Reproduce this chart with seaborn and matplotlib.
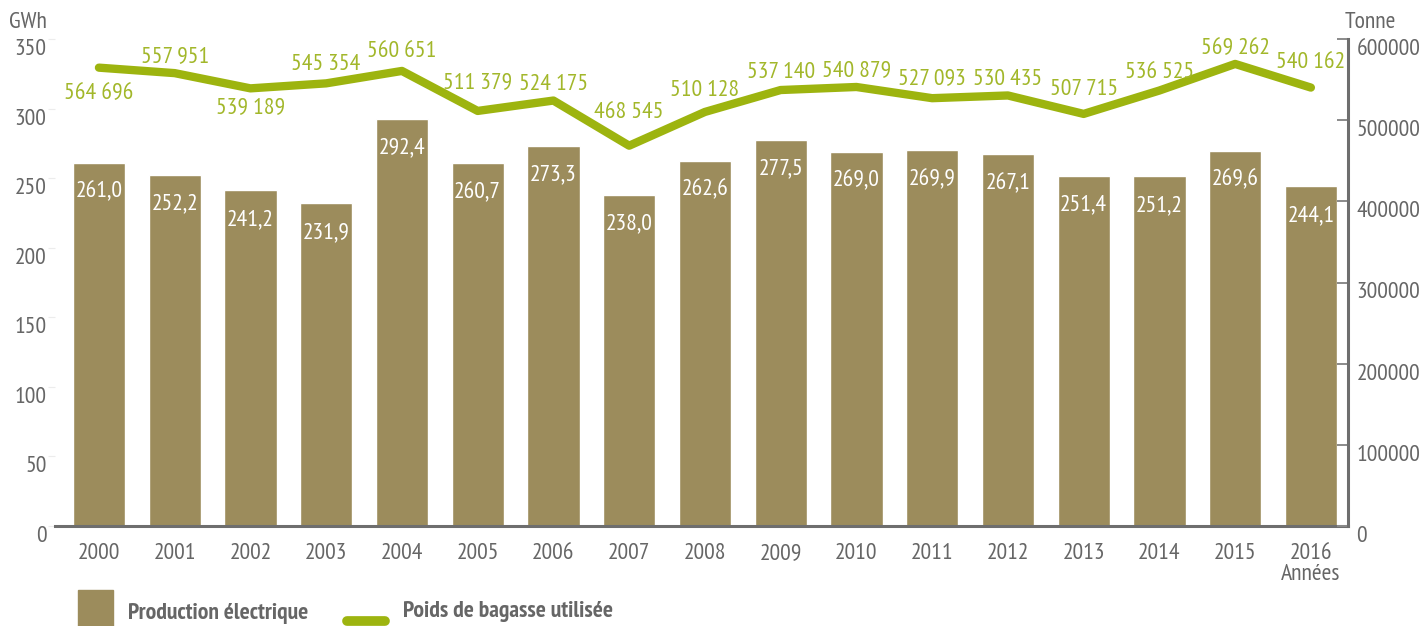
import numpy as np
import seaborn as sns
import matplotlib.pyplot as plt
import matplotlib.transforms as mtransforms
from matplotlib import font_manager as fm
from matplotlib.patches import Rectangle
from matplotlib.lines import Line2D

years = [str(y) for y in range(2000, 2017)]
production_gwh = [261.0, 252.2, 241.2, 231.9, 292.4, 260.7, 273.3, 238.0, 262.6,
                  277.5, 269.0, 269.9, 267.1, 251.4, 251.2, 269.6, 244.1]
bagasse_t = [564696, 557951, 539189, 545354, 560651, 511379, 524175, 468545, 510128,
             537140, 540879, 527093, 530435, 507715, 536525, 569262, 540162]
left_ticks = [0, 50, 100, 150, 200, 250, 300, 350]
right_ticks = [0, 100000, 200000, 300000, 400000, 500000, 600000]

# label offset from the line point, in pixels (negative = below)
line_label_dy = [-26, 17, -19, 19, 19, 28, 16, 33, 21, 18, 16, 20, 16, 24, 18, 15, 25]

BAR = "#9c8c5c"
LINE = "#9db40f"
LINE_TXT = "#a2b72a"
GREY = "#666666"
AXIS = "#6e6e6e"

# the source uses a condensed face; take the first narrow family we have
have = {f.name for f in fm.fontManager.ttflist}
narrow = [n for n in ["PT Sans Narrow", "Roboto Condensed", "Fira Sans Condensed",
                      "Open Sans Condensed", "Liberation Sans Narrow", "Archivo Narrow"]
          if n in have]
FS = 17 if narrow else 13

sns.set_theme(style="white")
plt.rcParams["font.family"] = narrow[:1] + ["Liberation Sans", "DejaVu Sans"]

W, H = 1420, 626
fig = plt.figure(figsize=(W / 100, H / 100), dpi=100)
ax = fig.add_axes([55 / W, 100 / H, (1348 - 55) / W, (526 - 39) / H])

x = np.arange(len(years))
sns.barplot(x=years, y=production_gwh, color=BAR, saturation=1, width=0.69, ax=ax)
ax.set_xlim(-0.58, 16.49)
ax.set_ylim(0, 350)
ax.set_yticks(left_ticks)
ax.set_yticklabels([str(t) for t in left_ticks])
for s in ["left", "top", "right"]:
    ax.spines[s].set_visible(False)
ax.spines["bottom"].set_color(AXIS)
ax.spines["bottom"].set_linewidth(2.2)
ax.tick_params(axis="y", left=True, length=5, width=0.8, color="#ececec",
               labelsize=FS, labelcolor=GREY, pad=1)
ax.tick_params(axis="x", bottom=False, labelsize=FS, labelcolor=GREY, pad=6)
ax.set_xlabel("")
ax.set_ylabel("")

for i, v in enumerate(production_gwh):
    ax.annotate(f"{v:.1f}".replace(".", ","), (i, v), xytext=(0, -29 * 0.72),
                textcoords="offset points", ha="center", va="center",
                color="white", fontsize=FS)

ax2 = ax.twinx()
sns.lineplot(x=x, y=bagasse_t, color=LINE, linewidth=6, ax=ax2)
ax2.set_ylim(0, 600000)
ax2.set_yticks(right_ticks)
ax2.set_yticklabels([str(t) for t in right_ticks])
for s in ["left", "top", "bottom"]:
    ax2.spines[s].set_visible(False)
ax2.spines["right"].set_color(AXIS)
ax2.spines["right"].set_linewidth(2.2)
ax2.tick_params(axis="y", right=True, direction="in", length=8, width=1.4,
                color="#8a8a8a", labelsize=FS, labelcolor=GREY, pad=6)
ax2.set_ylabel("")

for i, v in enumerate(bagasse_t):
    txt = f"{v:,}".replace(",", " ")
    ax2.annotate(txt, (i, v), xytext=(0, line_label_dy[i] * 0.72),
                 textcoords="offset points", ha="center", va="center",
                 color=LINE_TXT, fontsize=FS)

# tick labels sit a bit under their ticks
shift = mtransforms.ScaledTranslation(0, -8 / 100, fig.dpi_scale_trans)
for lab in ax.get_yticklabels() + ax2.get_yticklabels():
    lab.set_transform(lab.get_transform() + shift)

fig.text(28 / W, 1 - 22 / H, "GWh", ha="center", va="center", color=GREY, fontsize=FS)
fig.text(1370 / W, 1 - 22 / H, "Tonne", ha="center", va="center", color=GREY, fontsize=FS)
fig.text(1311 / W, 1 - 574 / H, "Années", ha="center", va="center", color=GREY, fontsize=FS)

# legend drawn by hand, as in the source (cut at the bottom edge)
fig.patches.append(Rectangle((78 / W, -0.01), 35 / W, (36 / H) + 0.01,
                             transform=fig.transFigure, color=BAR))
fig.text(128 / W, 1 - 614 / H, "Production électrique", ha="left", va="center",
         color=GREY, fontsize=FS, fontweight="bold")
fig.lines.append(Line2D([347 / W, 385 / W], [5 / H, 5 / H], transform=fig.transFigure,
                        color=LINE, linewidth=7))
fig.text(403 / W, 1 - 612 / H, "Poids de bagasse utilisée", ha="left", va="center",
         color=GREY, fontsize=FS, fontweight="bold")

fig.savefig("out.png", dpi=100)
